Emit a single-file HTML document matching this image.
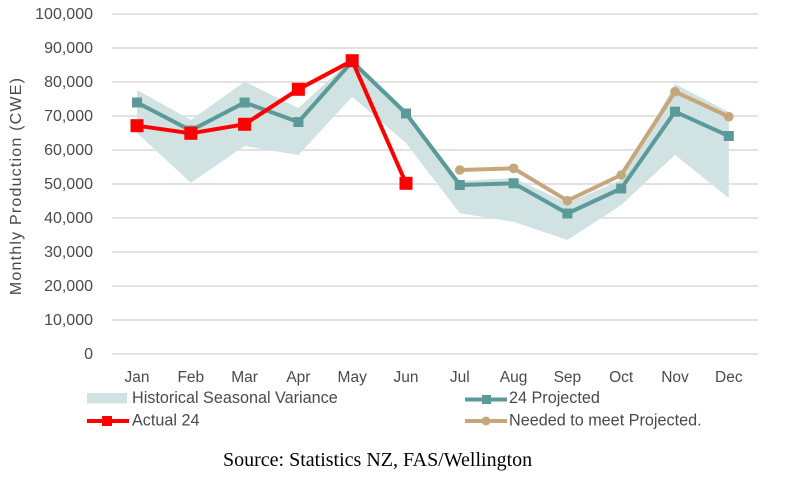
<!DOCTYPE html>
<html>
<head>
<meta charset="utf-8">
<style>
  html,body{margin:0;padding:0;background:#fff;}
  svg{display:block;}
  .t{font-family:"Liberation Sans",sans-serif;fill:#4a4a4a;}
</style>
</head>
<body>
<svg width="786" height="486" viewBox="0 0 786 486" xmlns="http://www.w3.org/2000/svg">
  <rect width="786" height="486" fill="#fff"/>
  <!-- gridlines -->
  <g stroke="#D9D9D9" stroke-width="1.5">
    <line x1="112" y1="14" x2="758" y2="14"/>
    <line x1="112" y1="48" x2="758" y2="48"/>
    <line x1="112" y1="82" x2="758" y2="82"/>
    <line x1="112" y1="116" x2="758" y2="116"/>
    <line x1="112" y1="150" x2="758" y2="150"/>
    <line x1="112" y1="184" x2="758" y2="184"/>
    <line x1="112" y1="218" x2="758" y2="218"/>
    <line x1="112" y1="252" x2="758" y2="252"/>
    <line x1="112" y1="286" x2="758" y2="286"/>
    <line x1="112" y1="320" x2="758" y2="320"/>
    <line x1="112" y1="354" x2="758" y2="354"/>
  </g>
  <!-- y tick labels -->
  <g class="t" font-size="16" text-anchor="end">
    <text x="93" y="19">100,000</text>
    <text x="93" y="53">90,000</text>
    <text x="93" y="87">80,000</text>
    <text x="93" y="121">70,000</text>
    <text x="93" y="155">60,000</text>
    <text x="93" y="189">50,000</text>
    <text x="93" y="223">40,000</text>
    <text x="93" y="257">30,000</text>
    <text x="93" y="291">20,000</text>
    <text x="93" y="325">10,000</text>
    <text x="93" y="359">0</text>
  </g>
  <!-- y axis title -->
  <text class="t" font-size="16" letter-spacing="1.2" text-anchor="middle" transform="translate(21,186) rotate(-90)">Monthly Production (CWE)</text>
  <!-- x labels -->
  <g class="t" font-size="15.5" text-anchor="middle">
    <text x="137" y="382">Jan</text>
    <text x="190.8" y="382">Feb</text>
    <text x="244.6" y="382">Mar</text>
    <text x="298.4" y="382">Apr</text>
    <text x="352.2" y="382">May</text>
    <text x="406" y="382">Jun</text>
    <text x="459.8" y="382">Jul</text>
    <text x="513.6" y="382">Aug</text>
    <text x="567.4" y="382">Sep</text>
    <text x="621.2" y="382">Oct</text>
    <text x="675" y="382">Nov</text>
    <text x="728.8" y="382">Dec</text>
  </g>
  <!-- band -->
  <polygon fill="#D0E2E1" points="137,90 190.8,120 244.6,81.7 298.4,108 352.2,59 406,110 459.8,181 513.6,178 567.4,203 621.2,180 675,84 728.8,112 728.8,198 675,155 621.2,205 567.4,240 513.6,221.7 459.8,213.3 406,143 352.2,96.7 298.4,155 244.6,146 190.8,182.7 137,133"/>
  <!-- teal line -->
  <polyline fill="none" stroke="#5B9A99" stroke-width="4" stroke-linejoin="round" points="137,102.5 190.8,130.5 244.6,102.5 298.4,122 352.2,61.5 406,113.5 459.8,185 513.6,183.3 567.4,213.5 621.2,188.5 675,111.7 728.8,136"/>
  <g fill="#5B9A99">
    <rect x="132" y="97.5" width="10" height="10"/>
    <rect x="185.8" y="125.5" width="10" height="10"/>
    <rect x="239.6" y="97.5" width="10" height="10"/>
    <rect x="293.4" y="117" width="10" height="10"/>
    <rect x="347.2" y="56.5" width="10" height="10"/>
    <rect x="401" y="108.5" width="10" height="10"/>
    <rect x="454.8" y="180" width="10" height="10"/>
    <rect x="508.6" y="178.3" width="10" height="10"/>
    <rect x="562.4" y="208.5" width="10" height="10"/>
    <rect x="616.2" y="183.5" width="10" height="10"/>
    <rect x="670" y="106.7" width="10" height="10"/>
    <rect x="723.8" y="131" width="10" height="10"/>
  </g>
  <!-- tan line -->
  <polyline fill="none" stroke="#C6A67B" stroke-width="4" stroke-linejoin="round" points="459.8,170 513.6,168.3 567.4,200.7 621.2,175 675,91.7 728.8,116.7"/>
  <g fill="#C6A67B">
    <circle cx="459.8" cy="170" r="4.8"/>
    <circle cx="513.6" cy="168.3" r="4.8"/>
    <circle cx="567.4" cy="200.7" r="4.8"/>
    <circle cx="621.2" cy="175" r="4.8"/>
    <circle cx="675" cy="91.7" r="4.8"/>
    <circle cx="728.8" cy="116.7" r="4.8"/>
  </g>
  <!-- red line -->
  <polyline fill="none" stroke="#FF0000" stroke-width="4" stroke-linejoin="round" points="137,125.7 190.8,133.3 244.6,124.3 298.4,89.3 352.2,60.7 406,183.3"/>
  <g fill="#FF0000">
    <rect x="130.5" y="119.2" width="13" height="13"/>
    <rect x="184.3" y="126.8" width="13" height="13"/>
    <rect x="238.1" y="117.8" width="13" height="13"/>
    <rect x="291.9" y="82.8" width="13" height="13"/>
    <rect x="345.7" y="54.2" width="13" height="13"/>
    <rect x="399.5" y="176.8" width="13" height="13"/>
  </g>
  <!-- legend -->
  <rect x="87" y="393" width="40" height="10.5" fill="#D0E2E1"/>
  <text class="t" font-size="16.2" x="132" y="403">Historical Seasonal Variance</text>
  <line x1="87" y1="421" x2="129" y2="421" stroke="#FF0000" stroke-width="4"/>
  <rect x="102" y="416" width="10" height="10" fill="#FF0000"/>
  <text class="t" font-size="16.2" x="132" y="425.5">Actual 24</text>
  <line x1="465" y1="399.5" x2="507" y2="399.5" stroke="#5B9A99" stroke-width="4"/>
  <rect x="482" y="395" width="9" height="9" fill="#5B9A99"/>
  <text class="t" font-size="16.2" x="509" y="403">24 Projected</text>
  <line x1="465" y1="421" x2="507" y2="421" stroke="#C6A67B" stroke-width="4"/>
  <circle cx="486" cy="421" r="4.5" fill="#C6A67B"/>
  <text class="t" font-size="16.2" x="509" y="425.5">Needed to meet Projected.</text>
  <!-- source -->
  <text x="223" y="466" font-family="'Liberation Serif',serif" font-size="20" fill="#000">Source: Statistics NZ, FAS/Wellington</text>
</svg>
</body>
</html>
